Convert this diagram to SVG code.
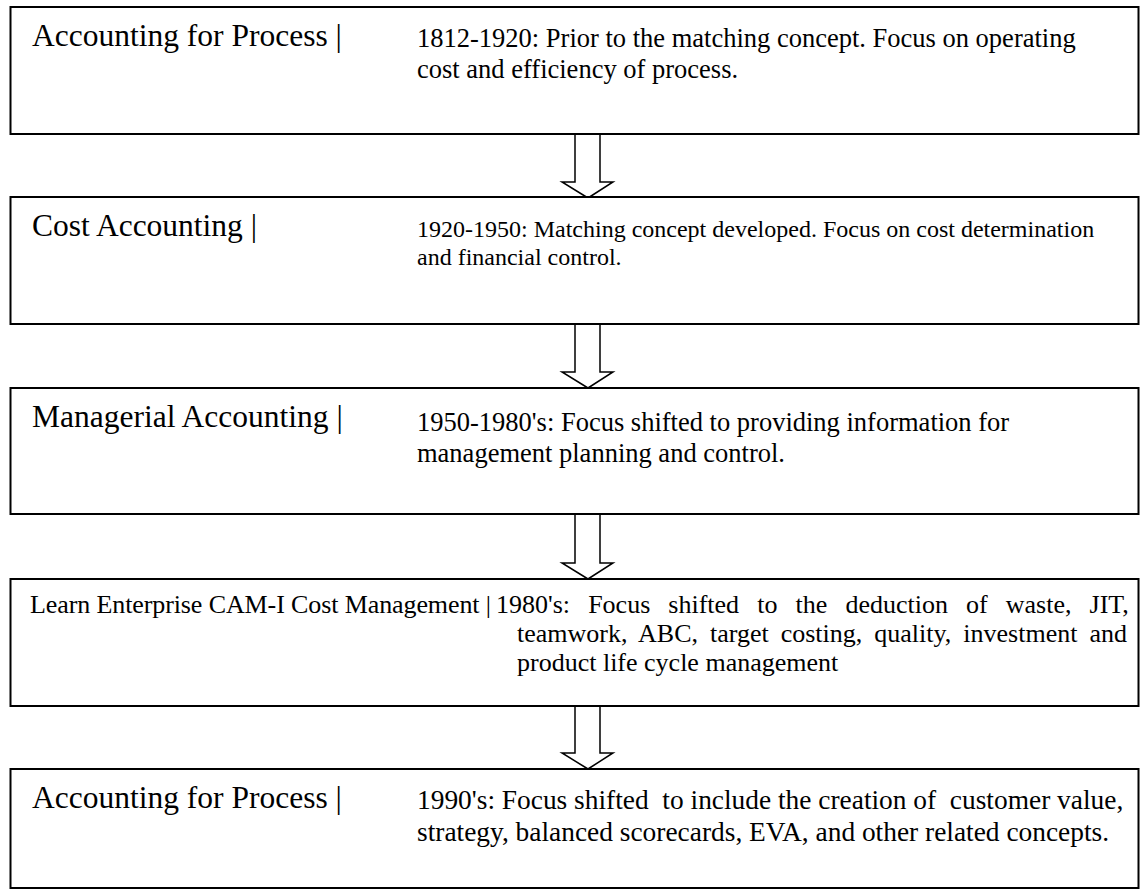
<svg xmlns="http://www.w3.org/2000/svg" width="1141" height="891" viewBox="0 0 1141 891">
<style>
.box{fill:#fff;stroke:#000;stroke-width:2}
.arrow{fill:#fff;stroke:#000;stroke-width:1.5;stroke-linejoin:miter}
text{font-family:"Liberation Serif","Times New Roman",serif;fill:#000;white-space:pre}
.lab{font-size:31.5px}
.d1{font-size:26.5px}
.d2{font-size:24px}
.d4{font-size:26px}
.d5{font-size:27.4px}
</style>
<rect width="1141" height="891" fill="#fff"/>
<g id="connectors">
<path class="arrow" d="M575,134 V182 H562 L588,198 L613,182 H600 V134"/>
<path class="arrow" d="M575,324 V372 H562 L588,388 L613,372 H600 V324"/>
<path class="arrow" d="M575,514 V563 H562 L588,579 L613,563 H600 V514"/>
<path class="arrow" d="M575,706 V753 H562 L588,769 L613,753 H600 V706"/>
</g>
<g id="node1">
<rect class="box" x="10.5" y="7" width="1128" height="127"/>
<text class="lab" x="32" y="46">Accounting for Process |</text>
<text class="d1" x="417" y="47">1812-1920: Prior to the matching concept. Focus on operating</text>
<text class="d1" x="417" y="78">cost and efficiency of process.</text>
</g>
<g id="node2">
<rect class="box" x="10.5" y="197" width="1128" height="127"/>
<text class="lab" x="32" y="236">Cost Accounting |</text>
<text class="d2" x="417" y="237">1920-1950: Matching concept developed. Focus on cost determination</text>
<text class="d2" x="417" y="265">and financial control.</text>
</g>
<g id="node3">
<rect class="box" x="10.5" y="388" width="1128" height="126"/>
<text class="lab" x="32" y="427">Managerial Accounting |</text>
<text class="d1" x="417" y="431">1950-1980's: Focus shifted to providing information for</text>
<text class="d1" x="417" y="462">management planning and control.</text>
</g>
<g id="node4">
<rect class="box" x="10.5" y="579" width="1128" height="127"/>
<text class="d4" x="30" y="613" textLength="461" lengthAdjust="spacing">Learn Enterprise CAM-I Cost Management |</text>
<text class="d4" x="496" y="613" word-spacing="11.6">1980's: Focus shifted to the deduction of waste, JIT,</text>
<text class="d4" x="517" y="642" word-spacing="5.5">teamwork, ABC, target costing, quality, investment and</text>
<text class="d4" x="517" y="671">product life cycle management</text>
</g>
<g id="node5">
<rect class="box" x="10.5" y="769" width="1128" height="119"/>
<text class="lab" x="32" y="808">Accounting for Process |</text>
<text class="d5" x="417" y="809">1990's: Focus shifted  to include the creation of  customer value,</text>
<text class="d5" x="417" y="841">strategy, balanced scorecards, EVA, and other related concepts.</text>
</g>
</svg>
